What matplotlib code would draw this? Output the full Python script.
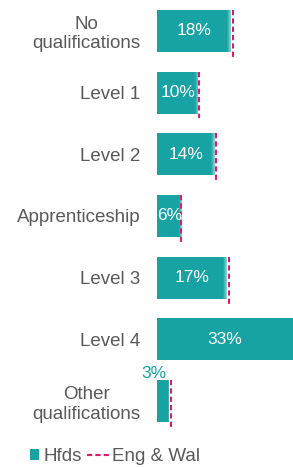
import numpy as np
import matplotlib.pyplot as plt
from matplotlib.patches import Patch
from matplotlib.lines import Line2D
from matplotlib.colors import LinearSegmentedColormap

plt.rcParams['font.family'] = ['Liberation Sans', 'DejaVu Sans']

# ---data---
categories = ['No\nqualifications', 'Level 1', 'Level 2', 'Apprenticeship',
              'Level 3', 'Level 4', 'Other\nqualifications']
hfds = [18, 10, 14, 6, 17, 33, 3]
eng_wal = [18.4, 10.3, 14.2, 5.8, 17.5, 34.0, 3.3]

teal = '#17a3a3'
pink = '#d81b6a'
grey = '#595959'
dash = (0, (2.5, 1.5))

fig = plt.figure(figsize=(2.93, 4.68), dpi=100)
ax = fig.add_axes([0.536, 0.077, 0.464, 0.923])

y = np.arange(len(categories))
h = 0.68
ax.barh(y, hfds, height=h, color=teal, zorder=2)

# soft fade at the end of each bar (not on the bar that runs off the edge)
fade = LinearSegmentedColormap.from_list('fade', [(1, 1, 1, 0), (1, 1, 1, 0.55)])
grad = np.linspace(0, 1, 50).reshape(1, -1)
for yi, v, e in zip(y, hfds, eng_wal):
    if e > 33:
        continue
    w = min(0.9, v * 0.12)
    ax.imshow(grad, cmap=fade, aspect='auto', zorder=3,
              extent=(v - w, v, yi + h / 2, yi - h / 2), interpolation='bilinear')

# Eng & Wal markers
for yi, v in zip(y, eng_wal):
    ax.plot([v, v], [yi - h / 2, yi + h / 2 + 0.08], color=pink, lw=1.5,
            linestyle=dash, zorder=4)

# data labels
for yi, v in zip(y, hfds):
    if v >= 5:
        ax.text(v / 2, yi, f'{v}%', ha='center', va='center', color='white',
                fontsize=12.5, zorder=5)
    else:
        ax.text(v * 0.8, yi - h / 2 + 0.02, f'{v}%', ha='right', va='bottom',
                color=teal, fontsize=12.5, zorder=5, clip_on=False)

ax.set_xlim(0, 33)
ax.set_ylim(len(categories) - 0.5, -0.5)
ax.set_yticks(y)
ax.set_yticklabels(categories, fontsize=13.5, color=grey, multialignment='center')
ax.tick_params(axis='y', length=0, pad=12)
ax.set_xticks([])
for s in ax.spines.values():
    s.set_visible(False)

leg1 = fig.legend([Patch(facecolor=teal, edgecolor='none')], ['Hfds'],
                  loc='center left', bbox_to_anchor=(0.102, 0.024), frameon=False,
                  fontsize=13.5, handlelength=0.5, handleheight=0.5,
                  handletextpad=0.25, labelcolor=grey, borderpad=0, borderaxespad=0)
leg2 = fig.legend([Line2D([0], [0], color=pink, lw=1.5, linestyle=dash)], ['Eng & Wal'],
                  loc='center left', bbox_to_anchor=(0.297, 0.024), frameon=False,
                  fontsize=13.5, handlelength=1.25, handletextpad=0.1,
                  labelcolor=grey, borderpad=0, borderaxespad=0)

fig.savefig('out.png', dpi=100)
